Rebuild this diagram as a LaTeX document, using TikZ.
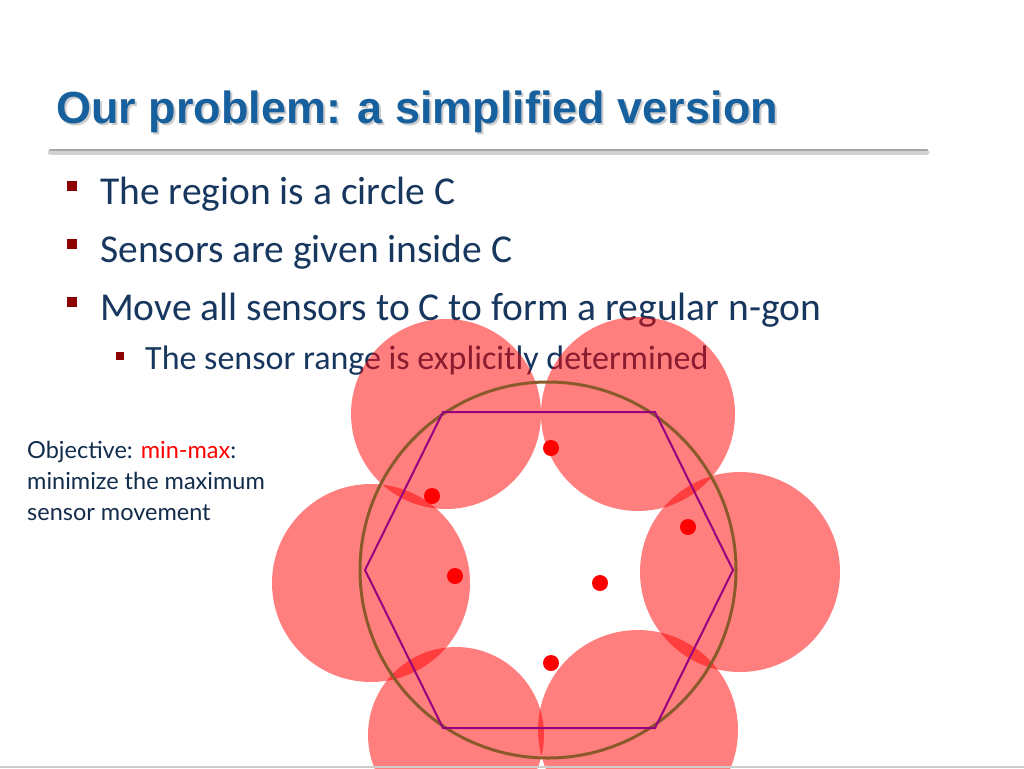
\documentclass[tikz,border=0pt]{standalone}
\usepackage{fontspec}
\setmainfont{Carlito}
\newfontfamily\titlefont{Liberation Sans}
\newfontfamily\objfont{Lato}
\definecolor{tblue}{HTML}{17609E}
\definecolor{txt}{HTML}{17375E}
\definecolor{bul}{HTML}{8B0000}
\definecolor{cbrown}{HTML}{8B5A2B}
\definecolor{hexp}{HTML}{990080}
\begin{document}
\begin{tikzpicture}[x=1pt,y=-1pt,
  rng/.style={fill=red,fill opacity=0.5,draw=none},
  dot/.style={circle,fill=red,inner sep=0,minimum size=16pt},
  bl/.style={fill=bul,minimum size=10pt,inner sep=0},
  sbl/.style={fill=bul,minimum size=8pt,inner sep=0},
  tx/.style={anchor=west,text=txt,font=\fontsize{39.5}{44}\selectfont,inner sep=0}]
\useasboundingbox (0,0) rectangle (1024,768);
\fill[white] (0,0) rectangle (1024,768);
\node[anchor=west,inner sep=0,text=gray!40,font=\titlefont\bfseries\fontsize{45}{50}\selectfont] at (58,114) {Our problem: a simplified version};
\node (title)[anchor=west,inner sep=0,text=tblue,font=\titlefont\bfseries\fontsize{45}{50}\selectfont] at (56,112) {Our problem: a simplified version};
\draw[line width=5pt,gray!35,line cap=round] (50,152) -- (927,152);
\draw[line width=2pt,gray!70,line cap=round] (50,150) -- (927,150);
\node[bl] (b1) at (72,186) {}; \node[tx] (t1) at (100,194) {The region is a circle C};
\node[bl] (b2) at (72,244) {}; \node[tx] (t2) at (100,252) {Sensors are given inside C};
\node[bl] (b3) at (72,302) {}; \node[tx] (t3) at (100,310) {Move all sensors to C to form a regular n-gon};
\node[sbl] (b4) at (120,356) {}; \node[tx,font=\fontsize{34}{38}\selectfont] (t4) at (145,361) {The sensor range is explicitly determined};
% ranges
\fill[rng] (446,414) circle (95);
\fill[rng] (638,414) circle (97);
\fill[rng] (740,572) circle (100);
\fill[rng] (638,730) circle (100);
\fill[rng] (456,735) circle (88);
\fill[rng] (371,583) circle (99);
\node[circle,draw=cbrown,line width=3pt,minimum size=376pt,inner sep=0] (C) at (548,570) {};
\draw[hexp,line width=2pt] (733,570) -- (655,412) -- (443,412) -- (365,570) -- (443,728) -- (655,728) -- cycle;
\node[dot] (s1) at (551,448) {};
\node[dot] (s2) at (432,496) {};
\node[dot] (s3) at (688,527) {};
\node[dot] (s4) at (455,576) {};
\node[dot] (s5) at (600,583) {};
\node[dot] (s6) at (551,663) {};
\node[anchor=north west,align=left,inner sep=0,text=txt!80!black,font=\objfont\fontsize{23.5}{31}\selectfont] (obj) at (27,441) {Objective: \textcolor{red}{min-max}:\\minimize the maximum\\sensor movement};
\draw[gray!40,line width=1.5pt] (0,767) -- (1024,767);
\end{tikzpicture}
\end{document}
